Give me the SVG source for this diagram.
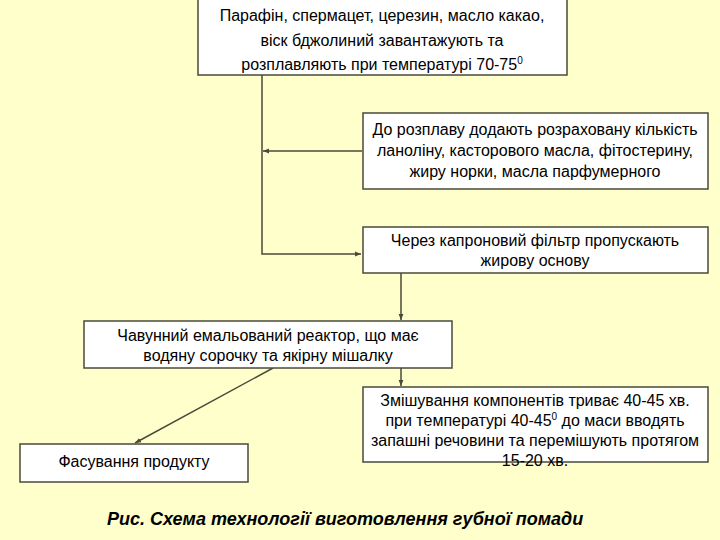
<svg xmlns="http://www.w3.org/2000/svg" width="720" height="540" viewBox="0 0 720 540">
<defs>
<style>
.box{fill:#ffffff;stroke:#4a4a3a;stroke-width:1.5}
.t{font-family:"Liberation Sans",Arial,sans-serif;font-size:16px;fill:#000;text-anchor:middle}
.sup{font-size:10px}
.ln{fill:none;stroke:#4a4a3a;stroke-width:1.5}
.cap{font-family:"Liberation Sans",Arial,sans-serif;font-size:18px;font-weight:bold;font-style:italic;fill:#000}
</style>
<marker id="ah" viewBox="0 0 10 10" refX="10" refY="5" markerWidth="6" markerHeight="6" orient="auto" markerUnits="userSpaceOnUse">
<path d="M0,1 L10,5 L0,9 Z" fill="#4a4a3a"/>
</marker>
</defs>
<rect width="720" height="540" fill="#ffffcc"/>
<g id="connectors">
<path class="ln" d="M262,75 V254 H361" marker-end="url(#ah)"/>
<path class="ln" d="M362,151 H263" marker-end="url(#ah)"/>
<path class="ln" d="M401,273 V320" marker-end="url(#ah)"/>
<path class="ln" d="M401,368 V386" marker-end="url(#ah)"/>
<path class="ln" d="M273,368 L135,443" marker-end="url(#ah)"/>
</g>
<g id="n1">
<rect class="box" x="198" y="-1" width="369" height="76"/>
<text class="t" x="382" y="21">Парафін, спермацет, церезин, масло какао,</text>
<text class="t" x="382" y="46">віск бджолиний завантажують та</text>
<text class="t" x="382" y="70">розплавляють при температурі 70-75<tspan class="sup" dy="-6">0</tspan></text>
</g>
<g id="n2">
<rect class="box" x="363" y="113" width="345" height="76"/>
<text class="t" x="535" y="135">До розплаву додають розраховану кількість</text>
<text class="t" x="535" y="156">ланоліну, касторового масла, фітостерину,</text>
<text class="t" x="535" y="177">жиру норки, масла парфумерного</text>
</g>
<g id="n3">
<rect class="box" x="363" y="227" width="345" height="46"/>
<text class="t" x="535" y="246">Через капроновий фільтр пропускають</text>
<text class="t" x="535" y="266">жирову основу</text>
</g>
<g id="n4">
<rect class="box" x="84" y="321" width="368" height="47"/>
<text class="t" x="268" y="341">Чавунний емальований реактор, що має</text>
<text class="t" x="268" y="361">водяну сорочку та якірну мішалку</text>
</g>
<g id="n5">
<rect class="box" x="363" y="387" width="345" height="75"/>
<text class="t" x="535" y="406">Змішування компонентів триває 40-45 хв.</text>
<text class="t" x="535" y="426">при температурі 40-45<tspan class="sup" dy="-6">0</tspan><tspan dy="6"> до маси вводять</tspan></text>
<text class="t" x="535" y="446">запашні речовини та перемішують протягом</text>
<text class="t" x="535" y="466">15-20 хв.</text>
</g>
<g id="n6">
<rect class="box" x="20" y="444" width="228" height="38"/>
<text class="t" x="134" y="467">Фасування продукту</text>
</g>
<text class="cap" x="107" y="525">Рис. Схема технології виготовлення губної помади</text>
</svg>
